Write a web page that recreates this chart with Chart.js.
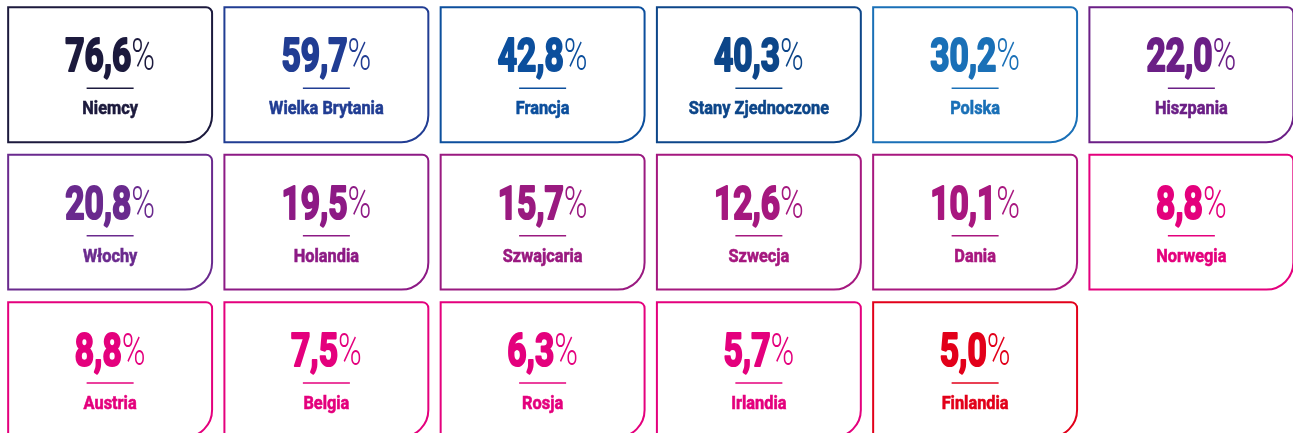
<!DOCTYPE html>
<html>
<head>
<meta charset="utf-8">
<script src="https://cdn.jsdelivr.net/npm/chart.js@4"></script>
<style>
  body { margin: 0; background: #fff; }
  #myChart { display: block; }
</style>
</head>
<body>
<canvas id="myChart" width="1293" height="433"></canvas>
<script>
// dane
const countries = ['Niemcy', 'Wielka Brytania', 'Francja', 'Stany Zjednoczone', 'Polska', 'Hiszpania',
    'Włochy', 'Holandia', 'Szwajcaria', 'Szwecja', 'Dania', 'Norwegia',
    'Austria', 'Belgia', 'Rosja', 'Irlandia', 'Finlandia'];
const values = [76.6, 59.7, 42.8, 40.3, 30.2, 22.0, 20.8, 19.5, 15.7, 12.6, 10.1, 8.8, 8.8, 7.5, 6.3, 5.7, 5.0];
const colors = ['#1c1a3d', '#213d93', '#0c4f9d', '#0d4689', '#1a70b7', '#6b1f86',
    '#6a2a8e', '#8d1a85', '#9a1a80', '#a5187f', '#a8177f', '#e4007d',
    '#e4007d', '#e4007d', '#e4007d', '#e4007d', '#e2001a'];

const perRow = 6;

// karty rysowane w miejscu punktów
const cardPlugin = {
    id: 'cards',
    afterDatasetsDraw(chart) {
        const ctx = chart.ctx;
        const xs = chart.scales.x, ys = chart.scales.y;
        const pw = Math.abs(xs.getPixelForValue(1) - xs.getPixelForValue(0));
        const ph = Math.abs(ys.getPixelForValue(1) - ys.getPixelForValue(0));
        const w = pw * 0.943, h = ph * 0.915;
        const r1 = 6, r2 = 27;

        chart.getDatasetMeta(0).data.forEach((pt, i) => {
            const cx = pt.x, cy = pt.y;
            const x0 = cx - w / 2, x1 = cx + w / 2;
            const y0 = cy - h / 2, y1 = cy + h / 2;
            const col = colors[i];

            ctx.save();
            ctx.strokeStyle = col;
            ctx.lineWidth = 2;
            ctx.beginPath();
            ctx.moveTo(x0, y0);
            ctx.lineTo(x1 - r1, y0);
            ctx.arcTo(x1, y0, x1, y0 + r1, r1);
            ctx.lineTo(x1, y1 - r2);
            ctx.arcTo(x1, y1, x1 - r2, y1, r2);
            ctx.lineTo(x0, y1);
            ctx.closePath();
            ctx.stroke();

            // liczba (pogrubiona obrysem)
            const num = values[i].toFixed(1).replace('.', ',');
            const sx = 0.73;
            ctx.fillStyle = col;
            ctx.textBaseline = 'alphabetic';
            ctx.textAlign = 'left';
            ctx.font = 'bold 46px Roboto';
            const nw = ctx.measureText(num).width;
            ctx.font = '300 44px Roboto';
            const pw2 = ctx.measureText('%').width;
            const total = (nw + pw2) * sx;
            const base = cy - 3.5;
            ctx.save();
            ctx.translate(cx - total / 2, base);
            ctx.scale(sx, 1);
            ctx.font = 'bold 46px Roboto';
            ctx.lineWidth = 2.2;
            ctx.lineJoin = 'round';
            ctx.fillText(num, 0, 0);
            ctx.strokeText(num, 0, 0);
            ctx.font = '300 44px Roboto';
            ctx.fillText('%', nw, -1);
            ctx.restore();

            // kreska
            ctx.lineWidth = 1.5;
            ctx.beginPath();
            ctx.moveTo(cx - 23.5, cy + 13.5);
            ctx.lineTo(cx + 23.5, cy + 13.5);
            ctx.stroke();

            // nazwa kraju
            ctx.save();
            ctx.translate(cx, cy + 39.5);
            ctx.scale(0.86, 1);
            ctx.textAlign = 'center';
            ctx.font = 'bold 19px Roboto';
            ctx.lineWidth = 0.6;
            ctx.fillText(countries[i], 0, 0);
            ctx.strokeText(countries[i], 0, 0);
            ctx.restore();
            ctx.restore();
        });
    }
};

const data = {
    datasets: [{
        data: countries.map((c, i) => ({ x: i % perRow, y: Math.floor(i / perRow) })),
        pointRadius: 0,
        pointHoverRadius: 0
    }]
};

const config = {
    type: 'scatter',
    data: data,
    options: {
        responsive: false,
        animation: false,
        devicePixelRatio: 1,
        layout: { padding: { left: 2, top: 1, right: 0, bottom: 0 } },
        plugins: {
            legend: { display: false },
            tooltip: { enabled: false }
        },
        scales: {
            x: { type: 'linear', display: false, min: -0.5, max: 5.47 },
            y: { type: 'linear', display: false, reverse: true, min: -0.5, max: 2.43 }
        }
    },
    plugins: [cardPlugin]
};

let myChart = new Chart(document.getElementById('myChart'), config);
</script>
</body>
</html>
